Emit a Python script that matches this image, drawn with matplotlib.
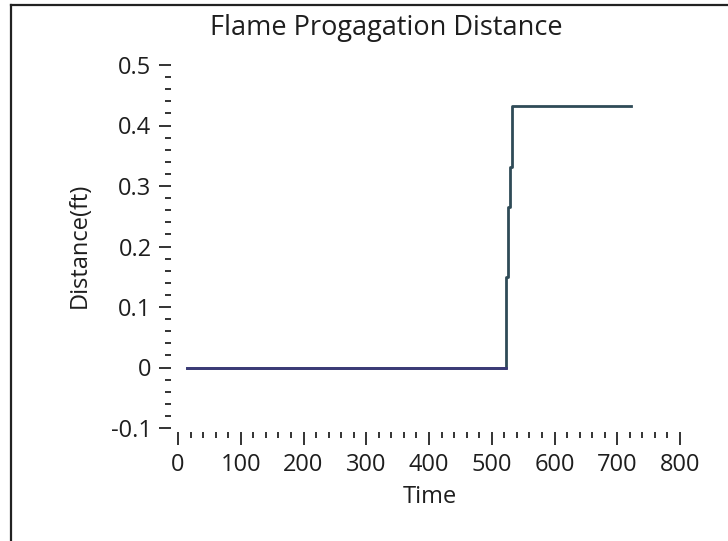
import matplotlib
matplotlib.use("Agg")
import matplotlib.pyplot as plt
from matplotlib.lines import Line2D
from matplotlib.ticker import MultipleLocator
import numpy as np

# flame front position
time_s = [15, 523, 526, 529, 532, 722]
distance_ft = [0.0, 0.149, 0.266, 0.332, 0.433, 0.433]

x_ticks = [0, 100, 200, 300, 400, 500, 600, 700, 800]
y_ticks = [-0.1, 0, 0.1, 0.2, 0.3, 0.4, 0.5]
y_tick_labels = ["-0.1", "0", "0.1", "0.2", "0.3", "0.4", "0.5"]

plt.rcParams["font.family"] = ["Open Sans", "DejaVu Sans"]
FS = 17
TXT = "#1e1e1e"

fig = plt.figure(figsize=(7.28, 5.41), dpi=100)
fig.patch.set_facecolor("white")

W, H = 728, 541
ax = fig.add_axes([178 / W, 1 - 428 / H, 502 / W, 363 / H])

ax.plot(time_s, distance_ft, drawstyle="steps-post", color="#2f4b57", lw=2.0)
# baseline part of the trace shows up in a purple-navy tint
t = np.array(time_s)
d = np.array(distance_ft)
flat = d == 0
ax.plot([t[flat][0], t[1]], [0, 0], color="#3b3a78", lw=2.0)

ax.set_xlim(0, 800)
ax.set_ylim(-0.1, 0.5)

for s in ax.spines.values():
    s.set_color("none")
ax.spines["bottom"].set_position(("outward", 3))
ax.spines["left"].set_position(("outward", 5))

ax.set_xticks(x_ticks)
ax.set_yticks(y_ticks)
ax.set_yticklabels(y_tick_labels)
ax.xaxis.set_minor_locator(MultipleLocator(20))
ax.yaxis.set_minor_locator(MultipleLocator(0.02))
ax.tick_params(which="major", direction="out", length=9, width=1.4,
               color="#333333", labelsize=FS, labelcolor=TXT, pad=5)
ax.tick_params(which="minor", direction="out", length=4.5, width=1.4,
               color="#333333")
ax.tick_params(axis="x", which="major", pad=6)

fig.text(386 / W, 1 - 28 / H, "Flame Progagation Distance", ha="center",
         va="center", fontsize=19.5, color=TXT)
fig.text(80 / W, 1 - 245 / H, "Distance(ft)", ha="center", va="center",
         rotation=90, fontsize=FS, color=TXT)
fig.text(430 / W, 1 - 497 / H, "Time", ha="center", va="center",
         fontsize=FS, color=TXT)

# window frame (left and top edges)
fig.add_artist(Line2D([11 / W, 11 / W], [0, 1 - 5 / H], transform=fig.transFigure,
                      color="#222222", lw=1.6))
fig.add_artist(Line2D([11 / W, 1], [1 - 5 / H, 1 - 5 / H], transform=fig.transFigure,
                      color="#222222", lw=1.6))

fig.savefig("out.png", dpi=100)
